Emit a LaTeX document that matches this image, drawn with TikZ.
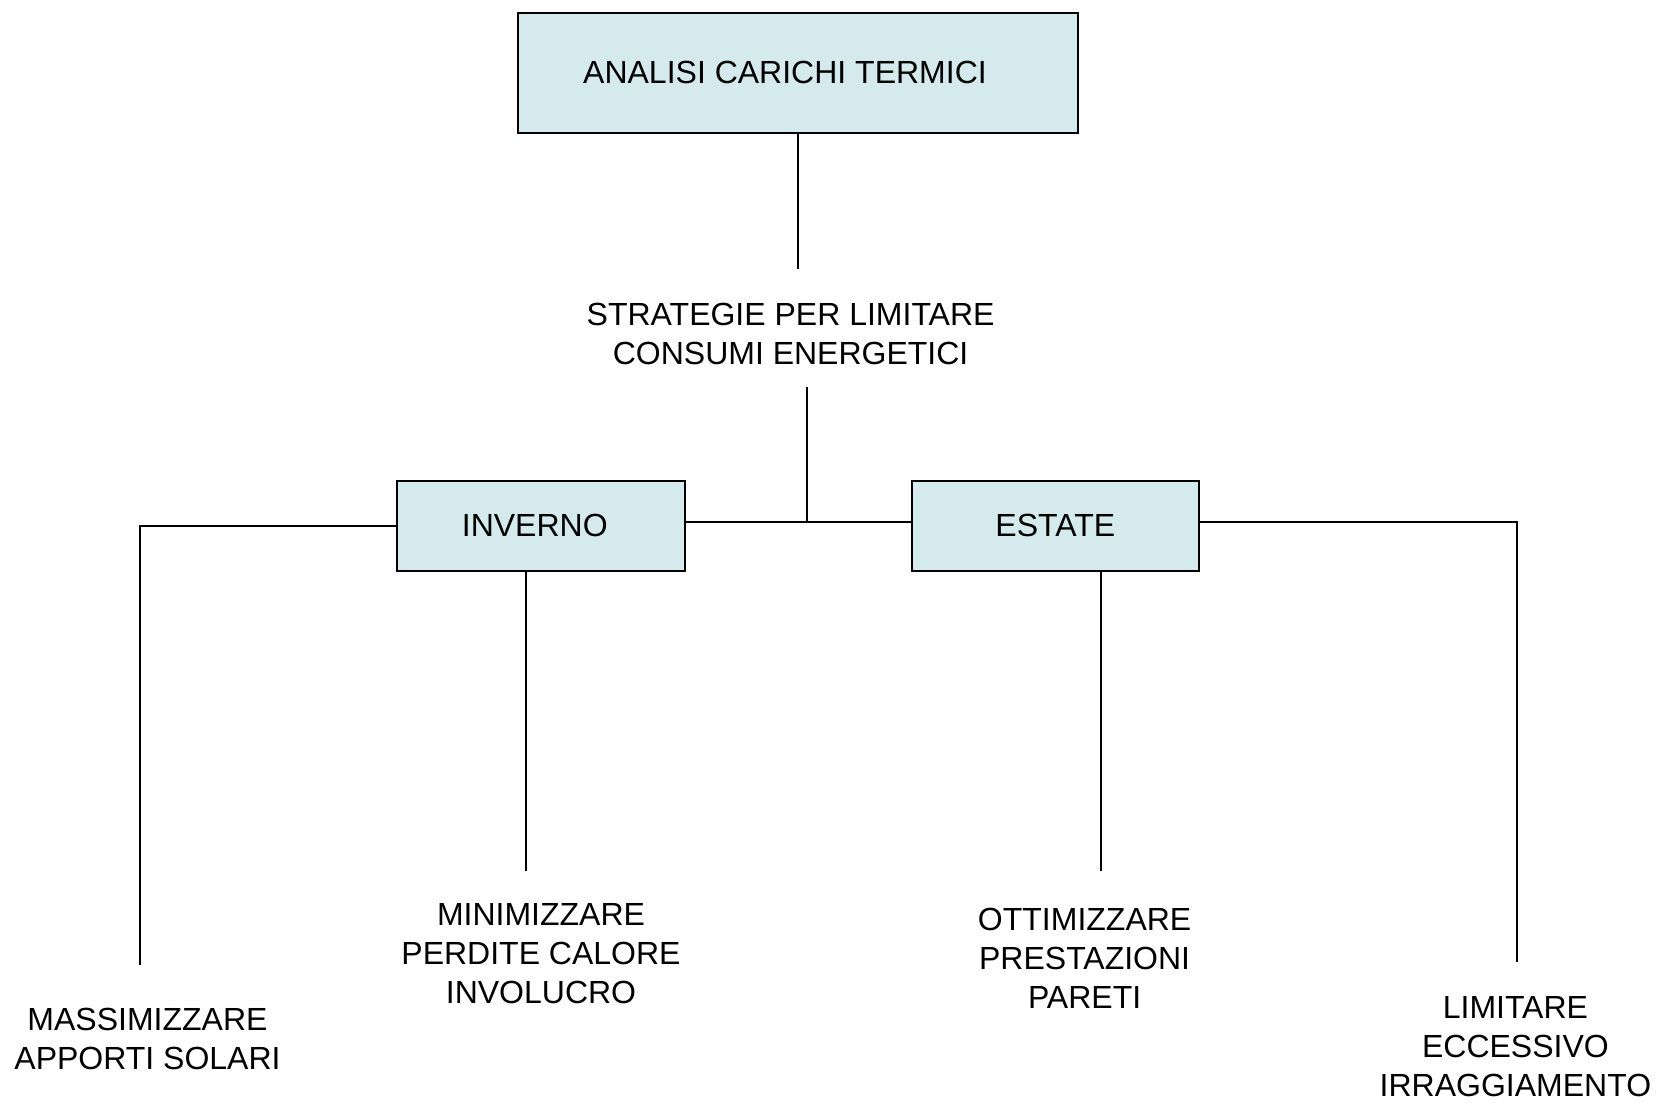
\documentclass[tikz,border=0pt]{standalone}
\usepackage{fontspec}
\setmainfont{Liberation Sans}
\definecolor{boxfill}{RGB}{212,234,236}
\begin{document}
\begin{tikzpicture}[x=0.5pt,y=-0.5pt,line width=1pt,
  box/.style={draw=black,fill=boxfill,line width=1pt,inner sep=0pt,font=\fontsize{16}{19.5}\selectfont},
  lbl/.style={align=center,inner sep=0pt,font=\fontsize{16}{19.5}\selectfont},
  conn/.style={draw=black,line width=1pt}]
\useasboundingbox (0,0) rectangle (1664,1105);
% boxes
\node[box,minimum width=280pt,minimum height=60pt] (top) at (798,72.7) {ANALISI CARICHI TERMICI\hspace*{13pt}};
\node[box,minimum width=143.75pt,minimum height=45pt] (inv) at (540.75,525.85) {INVERNO\hspace*{6pt}};
\node[box,minimum width=143.75pt,minimum height=45pt] (est) at (1055.3,525.85) {ESTATE};
% labels
\node[lbl] (strat) at (790.6,333.5) {STRATEGIE PER LIMITARE\\CONSUMI ENERGETICI};
\node[lbl] (mass) at (147.5,1039) {MASSIMIZZARE\\APPORTI SOLARI};
\node[lbl] (minim) at (541,954) {MINIMIZZARE\\PERDITE CALORE\\INVOLUCRO};
\node[lbl] (ottim) at (1084.6,958) {OTTIMIZZARE\\PRESTAZIONI\\PARETI};
\node[lbl] (limit) at (1515.4,1047) {LIMITARE\\ECCESSIVO\\IRRAGGIAMENTO};
% free ends
\coordinate (c1) at (798,268.5);
\coordinate (c2) at (806.5,387);
\coordinate (j) at (806.5,522);
\coordinate (l1) at (140,964.6);
\coordinate (r1) at (1516.5,961.5);
\coordinate (d1) at (526,871);
\coordinate (e1) at (1100.5,871);
% connectors
\draw[conn] (top.south) -- (c1);
\draw[conn] (c2) -- (j);
\draw[conn] (inv.east |- j) -- (est.west |- j);
\draw[conn] (inv.west) -| (l1);
\draw[conn] (est.east |- j) -| (r1);
\draw[conn] (inv.south -| d1) -- (d1);
\draw[conn] (est.south -| e1) -- (e1);
\end{tikzpicture}
\end{document}
